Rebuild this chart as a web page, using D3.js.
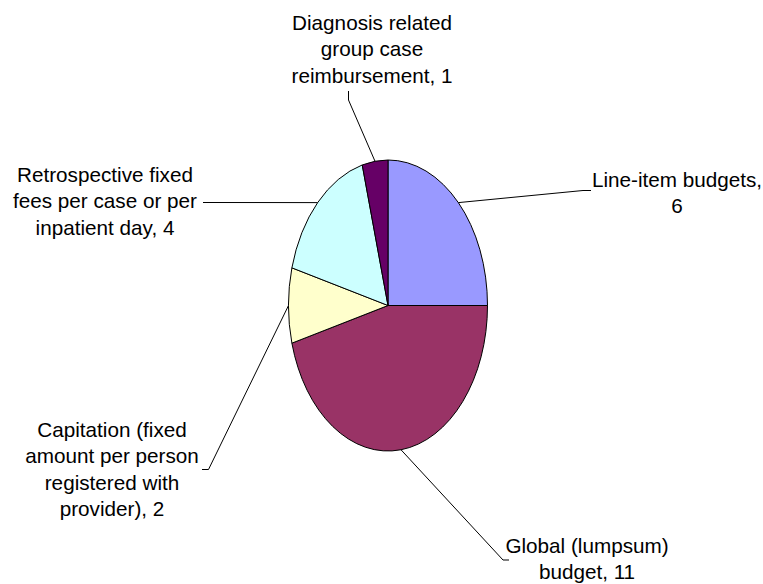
<!DOCTYPE html>
<html>
<head>
<meta charset="utf-8">
<script src="https://cdn.jsdelivr.net/npm/d3@7"></script>
<style>
  body { margin: 0; background: #fff; }
  text { font-family: "Liberation Sans", Arial, Helvetica, sans-serif; font-size: 20.7px; fill: #000; }
</style>
</head>
<body>
<div id="chart"></div>
<script>
// Chart data
const categories = [
  "Line-item budgets",
  "Global (lumpsum) budget",
  "Capitation (fixed amount per person registered with provider)",
  "Retrospective fixed fees per case or per inpatient day",
  "Diagnosis related group case reimbursement"
];
const values = [6, 11, 2, 4, 1];
const colors = ["#9999FF", "#993366", "#FFFFCC", "#CCFFFF", "#660066"];

// How each label breaks into lines (the value is added to the last line)
const labelLines = [
  ["Line-item budgets,", ""],
  ["Global (lumpsum)", "budget, "],
  ["Capitation (fixed", "amount per person", "registered with", "provider), "],
  ["Retrospective fixed", "fees per case or per", "inpatient day, "],
  ["Diagnosis related", "group case", "reimbursement, "]
];

// Define "SVG"
const svgWidth = 763;
const svgHeight = 584;

// pie ellipse
const cx = 388;
const cy = 305.5;
const rx = 99.5;
const ry = 145.5;
const lineHeight = 26.3;

// label placement: text centre x, first baseline y, leader elbow and end
const labelLayout = [
  { x: 677, y: 187, elbow: [583, 190.5], end: [591, 190.5] },
  { x: 587, y: 553, elbow: [503, 560], end: [509, 560] },
  { x: 112, y: 437, elbow: [208.5, 469.5], end: [202, 469.5] },
  { x: 105, y: 182, elbow: [210, 202.5], end: [203, 202.5] },
  { x: 372, y: 30, elbow: [348.5, 100], end: [348.5, 91] }
];

const svg = d3.select("#chart")
  .append("svg")
  .attr("width", svgWidth)
  .attr("height", svgHeight);

const pie = d3.pie().sort(null).value(d => d);
const arcs = pie(values);

const arc = d3.arc().innerRadius(0).outerRadius(ry);
const edgeArc = d3.arc().innerRadius(ry).outerRadius(ry);

// Pie group scaled into an ellipse
const pieGroup = svg.append("g")
  .attr("transform", `translate(${cx}, ${cy}) scale(${rx / ry}, 1)`);

pieGroup.selectAll("path")
  .data(arcs)
  .enter()
  .append("path")
  .attr("d", arc)
  .attr("fill", (d, i) => colors[i])
  .attr("stroke", "#000")
  .attr("stroke-width", 1)
  .attr("vector-effect", "non-scaling-stroke");

// Leader lines from the slice edge to the label
svg.selectAll("polyline")
  .data(arcs)
  .enter()
  .append("polyline")
  .attr("points", (d, i) => {
    const c = edgeArc.centroid(d);
    const p = [cx + c[0] * rx / ry, cy + c[1]];
    const l = labelLayout[i];
    return [p, l.elbow, l.end].map(q => q.join(",")).join(" ");
  })
  .attr("fill", "none")
  .attr("stroke", "#000")
  .attr("stroke-width", 1);

// Labels
const labels = svg.selectAll("text.label")
  .data(arcs)
  .enter()
  .append("text")
  .attr("class", "label")
  .attr("text-anchor", "middle")
  .attr("x", (d, i) => labelLayout[i].x)
  .attr("y", (d, i) => labelLayout[i].y);

labels.each(function(d, i) {
  const lines = labelLines[i];
  d3.select(this).selectAll("tspan")
    .data(lines)
    .enter()
    .append("tspan")
    .attr("x", labelLayout[i].x)
    .attr("dy", (t, j) => j === 0 ? 0 : lineHeight)
    .text((t, j) => j === lines.length - 1 ? t + values[i] : t);
});
</script>
</body>
</html>
